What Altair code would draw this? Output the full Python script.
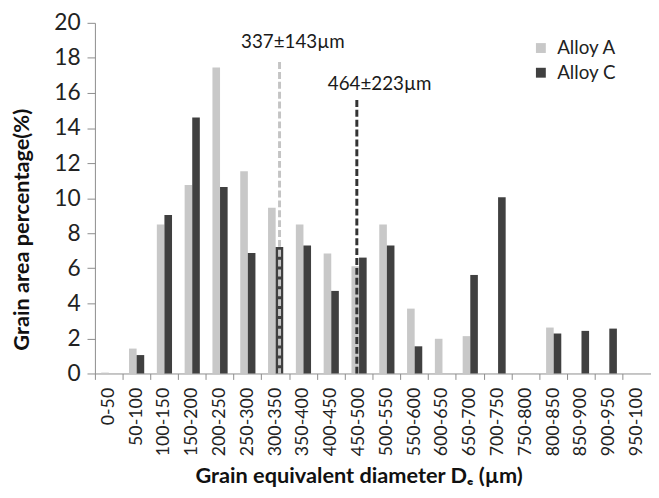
import altair as alt
import pandas as pd

categories = ["0-50", "50-100", "100-150", "150-200", "200-250", "250-300",
              "300-350", "350-400", "400-450", "450-500", "500-550", "550-600",
              "600-650", "650-700", "700-750", "750-800", "800-850", "850-900",
              "900-950", "950-100"]
alloy_a = [0.05, 1.42, 8.5, 10.75, 17.46, 11.54, 9.45, 8.5, 6.85, 6.12,
           8.5, 3.7, 1.98, 2.13, 0, 0, 2.62, 0, 0, 0]
alloy_c = [0, 1.05, 9.04, 14.6, 10.63, 6.87, 7.21, 7.3, 4.71, 6.61,
           7.3, 1.55, 0, 5.62, 10.05, 0, 2.28, 2.43, 2.56, 0]
series = ["Alloy A", "Alloy C"]
series_colors = ["#c8c8c8", "#404040"]

# mean-size annotations (as drawn, in µm along the diameter axis / % on y)
mean_labels = ["337±143µm", "464±223µm"]
mean_line_x = [332, 471]
mean_line_top = [17.76, 15.6]
mean_label_x = [356, 512]
mean_label_y = [18.9, 16.5]
mean_colors = ["#c4c4c4", "#333333"]

FONT = "Lato"

rows = []
for i, c in enumerate(categories):
    rows.append({"range": c, "alloy": series[0], "pct": alloy_a[i]})
    rows.append({"range": c, "alloy": series[1], "pct": alloy_c[i]})
df = pd.DataFrame(rows)


def yscale():
    return alt.Scale(domain=[0, 20], nice=False)


bars = alt.Chart(df).mark_bar().encode(
    x=alt.X("range:N", sort=categories,
            scale=alt.Scale(paddingInner=0, paddingOuter=0),
            axis=alt.Axis(title="Grain equivalent diameter Dₑ (µm)",
                          labelAngle=270, bandPosition=0, tickSize=6,
                          labelPadding=8, labelFontSize=18, labelFont=FONT,
                          labelColor="#222222", domainColor="#8c8c8c",
                          tickColor="#8c8c8c", titleFont=FONT,
                          titleFontSize=22, titleFontWeight="bold",
                          titleColor="#111111", titleX=267, titleY=110,
                          titleAlign="center", titleBaseline="alphabetic")),
    xOffset=alt.XOffset("alloy:N", sort=series,
                        scale=alt.Scale(paddingInner=0, paddingOuter=0.83)),
    y=alt.Y("pct:Q", scale=yscale(),
            axis=alt.Axis(title="Grain area percentage(%)",
                          values=list(range(0, 21, 2)), grid=False,
                          tickSize=8, labelPadding=7, labelFontSize=23,
                          labelFont=FONT, labelColor="#222222",
                          labelFlush=False, labelOverlap=False,
                          domainColor="#8c8c8c", tickColor="#8c8c8c",
                          titleFont=FONT, titleFontSize=22,
                          titleFontWeight="bold", titleColor="#111111",
                          titleAngle=270, titleX=-74, titleY=209,
                          titleAlign="center", titleBaseline="middle")),
    color=alt.Color("alloy:N",
                    scale=alt.Scale(domain=series, range=series_colors),
                    legend=alt.Legend(title=None, orient="none",
                                      legendX=442, legendY=16,
                                      symbolType="square", symbolSize=100,
                                      symbolStrokeWidth=0, labelFont=FONT,
                                      labelFontSize=19, labelColor="#222222",
                                      rowPadding=5, labelOffset=7, padding=0)),
)

rule_df = pd.DataFrame({"x": mean_line_x, "top": mean_line_top,
                        "color": mean_colors})
rules = alt.Chart(rule_df).mark_rule(strokeWidth=3, strokeDash=[7, 3]).encode(
    x=alt.X("x:Q", scale=alt.Scale(domain=[0, 1000]), axis=None),
    y=alt.Y("top:Q", scale=yscale(), axis=None),
    y2=alt.datum(0),
    color=alt.Color("color:N", scale=None),
)

text_df = pd.DataFrame({"x": mean_label_x, "y": mean_label_y,
                        "label": mean_labels})
texts = alt.Chart(text_df).mark_text(font=FONT, fontSize=19,
                                     color="#1a1a1a", align="center",
                                     baseline="middle").encode(
    x=alt.X("x:Q", scale=alt.Scale(domain=[0, 1000]), axis=None),
    y=alt.Y("y:Q", scale=yscale(), axis=None),
    text="label:N",
)

chart = alt.layer(bars, rules, texts).resolve_scale(
    x="independent", y="independent", color="independent"
).properties(
    width=563, height=355,
    autosize=alt.AutoSizeParams(type="none"),
    padding={"left": 88, "top": 12, "right": 0, "bottom": 120},
    background="white",
).configure_view(stroke=None)

chart.save("out.html", embed_options={"renderer": "svg", "actions": False})
